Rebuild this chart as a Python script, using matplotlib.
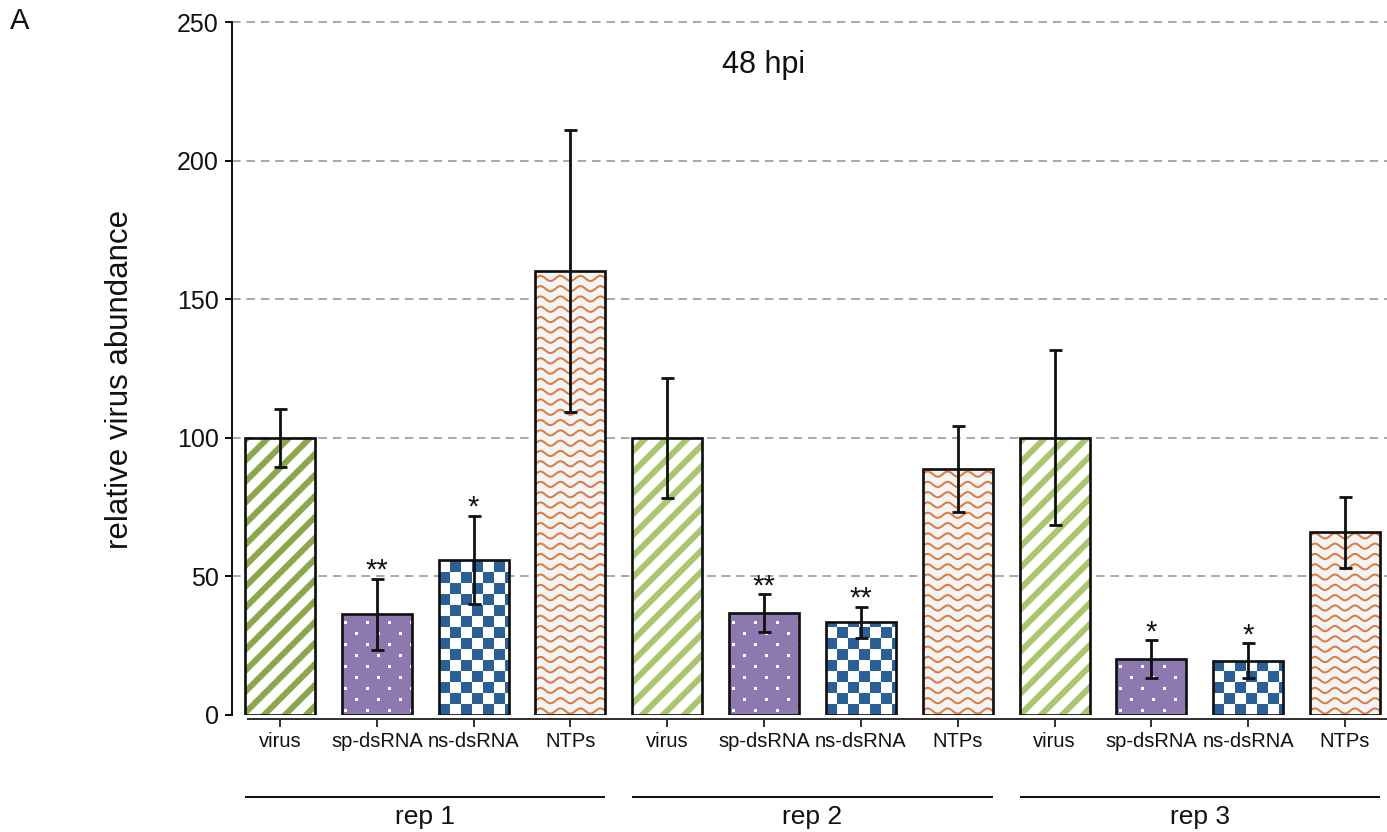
import numpy as np
import matplotlib
matplotlib.use("Agg")
import matplotlib.pyplot as plt
from matplotlib.transforms import IdentityTransform
from matplotlib.collections import LineCollection, PatchCollection
from matplotlib.patches import Rectangle

plt.rcParams['font.family'] = ['Liberation Sans', 'DejaVu Sans']

# ---- data -------------------------------------------------------------
treatments = ['virus', 'sp-dsRNA', 'ns-dsRNA', 'NTPs']
replicates = ['rep 1', 'rep 2', 'rep 3']
rep1_means = [100, 36.4, 55.9, 160.2]
rep2_means = [100, 36.8, 33.5, 88.7]
rep3_means = [100, 20.2, 19.5, 66.0]
rep1_err = [10.5, 12.8, 16.0, 51.0]
rep2_err = [21.6, 6.7, 5.6, 15.5]
rep3_err = [31.5, 6.7, 6.3, 12.8]
rep1_sig = ['', '**', '*', '']
rep2_sig = ['', '**', '**', '']
rep3_sig = ['', '*', '*', '']
y_ticks = [0, 50, 100, 150, 200, 250]
title = '48 hpi'
ylabel = 'relative virus abundance'

means = rep1_means + rep2_means + rep3_means
errors = rep1_err + rep2_err + rep3_err
stars = rep1_sig + rep2_sig + rep3_sig
labels = treatments * len(replicates)
xs = np.arange(len(means))

# ---- styling ----------------------------------------------------------
virus_green = ['#8BA64B', '#A9C66F', '#A9C66F']
purple = '#8E78B0'
blue = '#2B6096'
orange = '#E07A3C'
ntp_bg = '#F3F4F6'
grid_gray = '#AAAAAA'
ink = '#111111'

W, H, DPI = 1387, 832, 100
fig = plt.figure(figsize=(W / DPI, H / DPI), dpi=DPI)
px2pt = 72.0 / DPI

# axes frame in pixels (from top-left)
ax_l, ax_r = 232, 1387
ax_bottom_px = 715
px_per_unit = (715 - 22) / 250.0
y_top = 252
ax_top_px = ax_bottom_px - y_top * px_per_unit
ax = fig.add_axes([ax_l / W, (H - ax_bottom_px) / H,
                   (ax_r - ax_l) / W, (ax_bottom_px - ax_top_px) / H])
ax.set_ylim(0, y_top)
step_px = (1345 - 280) / 11.0
x_min = -(280 - ax_l) / step_px
x_max = (ax_r - 280) / step_px
ax.set_xlim(x_min, x_max)

bar_w = 70 / step_px

# dashed grid (no line at zero)
for v in y_ticks[1:]:
    ax.axhline(v, color=grid_gray, lw=2 * px2pt,
               linestyle=(0, (4.3, 2.9)), zorder=0)

faces = []
for i in xs:
    kind = i % 4
    if kind == 1:
        faces.append(purple)
    elif kind == 3:
        faces.append(ntp_bg)
    else:
        faces.append('white')

base = ax.bar(xs, means, bar_w, color=faces, edgecolor='none', zorder=1)


def pixel_box(rect):
    (x0, y0), (x1, y1) = ax.transData.transform(
        [(rect.get_x(), rect.get_y()),
         (rect.get_x() + rect.get_width(), rect.get_y() + rect.get_height())])
    return x0, y0, x1, y1


ident = IdentityTransform()
for i, rect in enumerate(base.patches):
    x0, y0, x1, y1 = pixel_box(rect)
    kind = i % 4
    if kind == 0:
        # diagonal stripes
        period = 21.0
        c0 = np.floor((y0 - x1) / period) - 1
        c1 = np.ceil((y1 - x0) / period) + 1
        segs = []
        for k in np.arange(c0, c1 + 1):
            c = k * period
            segs.append([(x0 - 20, x0 - 20 + c), (x1 + 20, x1 + 20 + c)])
        art = LineCollection(segs, colors=virus_green[i // 4],
                             linewidths=6 * px2pt, capstyle='butt',
                             transform=ident, zorder=2)
    elif kind == 1:
        # white dots on purple
        sq = 3.0
        rows = []
        r = 0
        yy = y0 + 5
        while yy < y1 + 5:
            off = 0 if r % 2 == 0 else 11
            xx = x0 + 4 + off
            while xx < x1 + 5:
                rows.append(Rectangle((xx - sq / 2, yy - sq / 2), sq, sq))
                xx += 22
            yy += 11
            r += 1
        art = PatchCollection(rows, facecolor='white', edgecolor='none',
                              transform=ident, zorder=2)
    elif kind == 2:
        # checkerboard
        cell = 11.0
        cells = []
        nx = int(np.ceil((x1 - x0) / cell)) + 1
        ny = int(np.ceil((y1 - y0) / cell)) + 1
        for a in range(nx):
            for b in range(ny):
                if (a + b) % 2 == 0:
                    cells.append(Rectangle((x0 + a * cell, y0 + b * cell),
                                           cell, cell))
        art = PatchCollection(cells, facecolor=blue, edgecolor='none',
                              transform=ident, zorder=2)
    else:
        # wavy lines
        wl, vp, amp = 20.0, 10.3, 2.6
        wx = np.arange(x0 - wl, x1 + wl, 1.0)
        segs = []
        yy = y0 + 4
        while yy < y1 + vp:
            segs.append(np.column_stack(
                [wx, yy + amp * np.sin(2 * np.pi * (wx - x0) / wl)]))
            yy += vp
        art = LineCollection(segs, colors=orange, linewidths=2.0 * px2pt,
                             transform=ident, zorder=2)
    ax.add_collection(art, autolim=False)
    art.set_clip_path(rect)

ax.bar(xs, means, bar_w, fill=False, edgecolor=ink, lw=2.7 * px2pt, zorder=3)
ax.errorbar(xs, means, yerr=errors, fmt='none', ecolor=ink,
            elinewidth=2.8 * px2pt, capsize=6.5 * px2pt,
            capthick=2.8 * px2pt, zorder=4)

for x, m, e, s in zip(xs, means, errors, stars):
    if s:
        ax.text(x, m + e, s, ha='center', va='baseline', fontsize=21,
                color=ink, zorder=5)

# axes styling
for side in ('top', 'right'):
    ax.spines[side].set_visible(False)
ax.spines['left'].set_bounds(0, 250)
ax.spines['left'].set_linewidth(2 * px2pt)
ax.spines['left'].set_color(ink)
ax.spines['bottom'].set_position(('outward', 4 * px2pt))
ax.spines['bottom'].set_bounds(-(280 - 248) / step_px, x_max)
ax.spines['bottom'].set_linewidth(2 * px2pt)
ax.spines['bottom'].set_color('#333333')

ax.set_yticks(y_ticks)
ax.set_yticklabels([str(v) for v in y_ticks])
ax.tick_params(axis='y', length=7 * px2pt, width=2 * px2pt, pad=6 * px2pt,
               labelsize=18, color=ink, labelcolor=ink)
ax.set_xticks(xs)
ax.set_xticklabels(labels)
ax.tick_params(axis='x', length=8 * px2pt, width=2 * px2pt, pad=5 * px2pt,
               labelsize=14.5, color='#333333', labelcolor=ink)

# replicate brackets below the category labels
xt = ax.get_xaxis_transform()
line_y = -(797 - ax_bottom_px) / (ax_bottom_px - ax_top_px)
text_y = -(824 - ax_bottom_px) / (ax_bottom_px - ax_top_px)
for g, name in enumerate(replicates):
    a = g * 4 - bar_w / 2
    b = g * 4 + 3 + bar_w / 2
    ax.plot([a, b], [line_y, line_y], color=ink, lw=2 * px2pt,
            transform=xt, clip_on=False, solid_capstyle='butt')
    ax.text(g * 4 + 1.5, text_y, name, transform=xt, ha='center',
            va='baseline', fontsize=19, color=ink)

fig.text(764 / W, 1 - 73 / H, title, ha='center', va='baseline',
         fontsize=22, color=ink)
fig.text(120 / W, 1 - 379 / H, ylabel, rotation=90, ha='center',
         va='center', fontsize=22.5, color=ink)
fig.text(10 / W, 1 - 29 / H, 'A', ha='left', va='baseline', fontsize=21,
         color=ink)

fig.savefig('out.png', dpi=DPI)
